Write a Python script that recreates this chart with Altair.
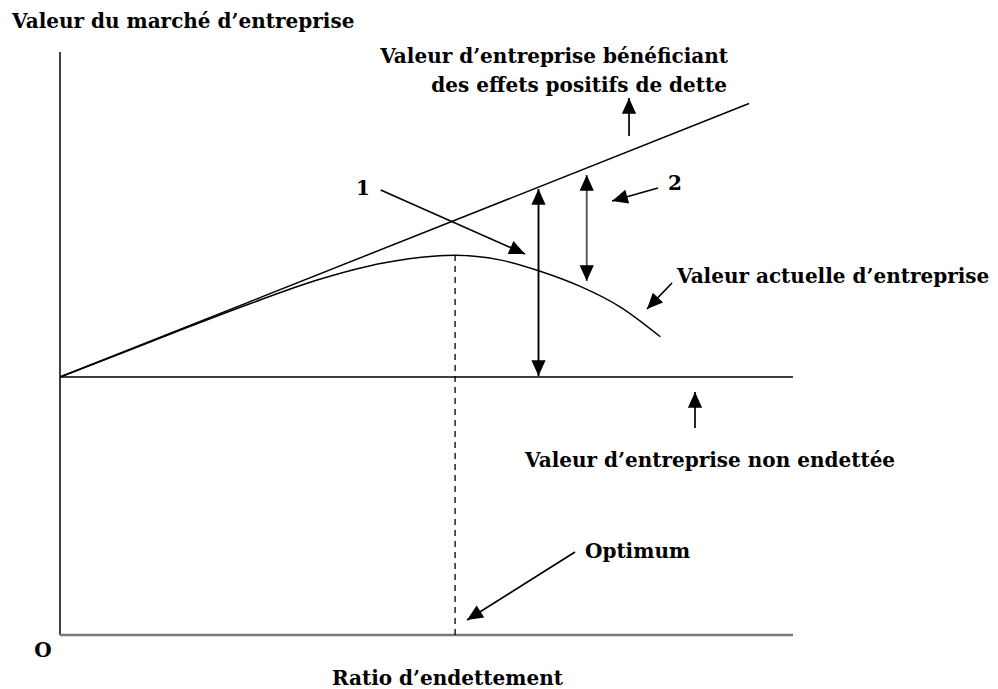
import math
import altair as alt
import pandas as pd

# ---------------- data (conceptual units: debt ratio 0-100, firm value) ----------------
x_axis_end = 100
y_axis_top = 113
unlevered_value = 50
levered_x = [0, 94]
levered_y = [50, 103]
curve_x = [0, 8.2, 16.8, 25.9, 35.1, 44.1, 50.9, 53.9, 60.0, 65.5, 70.9, 76.4, 81.9]
curve_y = [50, 54.5, 59.3, 64.2, 68.8, 72.1, 73.4, 73.6, 72.7, 70.5, 67.6, 63.6, 57.8]
optimum_x = 53.9
optimum_y = 73.6

# arrows: start (x, y) -> tip (x, y)
arrow_names = ["1", "2", "actuelle", "benef", "non_endettee", "optimum"]
arrow_x1 = [43.75, 81.58, 83.49, 77.63, 86.63, 70.26]
arrow_y1 = [86.24, 86.63, 68.22, 96.71, 40.12, 16.09]
arrow_x2 = [63.44, 75.31, 80.08, 77.63, 86.63, 55.53]
arrow_y2 = [73.84, 84.11, 63.18, 104.07, 47.09, 2.91]

# double arrows (x, y_top, y_bottom)
dbl_x = [65.28, 71.86]
dbl_ytop = [86.43, 89.15]
dbl_ybot = [50.19, 68.60]
dbl_color = ["#000000", "#555555"]

# labels
labels = [
    # text, x, y, align
    ("Valeur du marché d\u2019entreprise", -6.55, 117.64, "left"),
    ("Valeur d\u2019entreprise bénéficiant", 91.13, 110.8, "right"),
    ("des effets positifs de dette", 91.0, 105.3, "right"),
    ("1", 41.34, 85.27, "center"),
    ("2", 83.9, 86.24, "center"),
    ("Valeur actuelle d\u2019entreprise", 84.17, 68.16, "left"),
    ("Valeur d\u2019entreprise non endettée", 63.44, 32.5, "left"),
    ("Optimum", 71.62, 14.92, "left"),
    ("O", -2.32, -4.26, "center"),
    ("Ratio d\u2019endettement", 37.1, -9.69, "left"),
]

# ---------------- layout ----------------
W, H = 982, 681
PX_X, PX_Y = 7.33, 5.16          # pixels per data unit
ORIG_X, ORIG_Y = 60 - 8, 635 - 8  # origin inside the view
x_dom = [-ORIG_X / PX_X, (W - ORIG_X) / PX_X]
y_dom = [(ORIG_Y - H) / PX_Y, ORIG_Y / PX_Y]

X = lambda f="x": alt.X(f, type="quantitative", scale=alt.Scale(domain=x_dom, nice=False, zero=False), axis=None)
Y = lambda f="y": alt.Y(f, type="quantitative", scale=alt.Scale(domain=y_dom, nice=False, zero=False), axis=None)

FONT = "DejaVu Serif"
FS = 20

layers = []

# axes
axes_df = pd.DataFrame({
    "x": [0, 0], "y": [0, 0], "x2": [0, x_axis_end], "y2": [y_axis_top, 0],
    "c": ["#000000", "#777777"], "w": [1.5, 2.5],
})
layers.append(alt.Chart(axes_df).mark_rule().encode(
    x=X(), y=Y(), x2="x2", y2="y2",
    color=alt.Color("c:N", scale=None), strokeWidth=alt.StrokeWidth("w:Q", scale=None)))

# unlevered value line
layers.append(alt.Chart(pd.DataFrame({"x": [0], "x2": [x_axis_end], "y": [unlevered_value]}))
              .mark_rule(color="black", strokeWidth=1.6).encode(x=X(), x2="x2", y=Y()))

# levered line
layers.append(alt.Chart(pd.DataFrame({"x": levered_x, "y": levered_y}))
              .mark_line(color="black", strokeWidth=1.5).encode(x=X(), y=Y()))

# actual value curve
layers.append(alt.Chart(pd.DataFrame({"x": curve_x, "y": curve_y}))
              .mark_line(color="black", strokeWidth=1.5, interpolate="monotone").encode(x=X(), y=Y()))

# optimum dashed line
layers.append(alt.Chart(pd.DataFrame({"x": [optimum_x], "y": [0], "y2": [optimum_y]}))
              .mark_rule(color="black", strokeWidth=1.3, strokeDash=[6, 5]).encode(x=X(), y=Y(), y2="y2"))

HEAD = "M0,0L-0.45,1L0.45,1Z"


def angle(x1, y1, x2, y2):
    dx = (x2 - x1) * PX_X
    dy = -(y2 - y1) * PX_Y
    return math.degrees(math.atan2(dx, -dy)) % 360


# single arrows
arr_df = pd.DataFrame({"x": arrow_x1, "y": arrow_y1, "x2": arrow_x2, "y2": arrow_y2, "n": arrow_names})
layers.append(alt.Chart(arr_df).mark_rule(color="black", strokeWidth=1.7).encode(
    x=X(), y=Y(), x2="x2", y2="y2"))
heads = pd.DataFrame({
    "x": arrow_x2, "y": arrow_y2,
    "a": [angle(a, b, c, d) for a, b, c, d in zip(arrow_x1, arrow_y1, arrow_x2, arrow_y2)],
    "c": ["#000000"] * len(arrow_x2),
})
# double arrows
dbl_df = pd.DataFrame({"x": dbl_x, "y": dbl_ytop, "y2": dbl_ybot, "c": dbl_color})
layers.append(alt.Chart(dbl_df).mark_rule(strokeWidth=1.9).encode(
    x=X(), y=Y(), y2="y2", color=alt.Color("c:N", scale=None)))
dheads = pd.DataFrame({
    "x": dbl_x + dbl_x, "y": dbl_ytop + dbl_ybot,
    "a": [0.0] * len(dbl_x) + [180.0] * len(dbl_x),
    "c": ["#000000"] * (2 * len(dbl_x)),
})
all_heads = pd.concat([heads, dheads], ignore_index=True)
layers.append(alt.Chart(all_heads).mark_point(shape=HEAD, filled=True, size=1000, opacity=1, strokeWidth=0).encode(
    x=X(), y=Y(), angle=alt.Angle("a:Q", scale=None), color=alt.Color("c:N", scale=None)))

# labels
for txt, lx, ly, al in labels:
    layers.append(alt.Chart(pd.DataFrame({"x": [lx], "y": [ly], "t": [txt]}))
                  .mark_text(font=FONT, fontSize=FS, fontWeight="bold", align=al, baseline="alphabetic",
                             color="black")
                  .encode(x=X(), y=Y(), text="t:N"))

chart = alt.layer(*layers).properties(
    width=W, height=H, padding=0, autosize=alt.AutoSizeParams(type="none"),
).configure_view(stroke=None)

chart.save("out.html", embed_options={"renderer": "svg", "actions": False})
